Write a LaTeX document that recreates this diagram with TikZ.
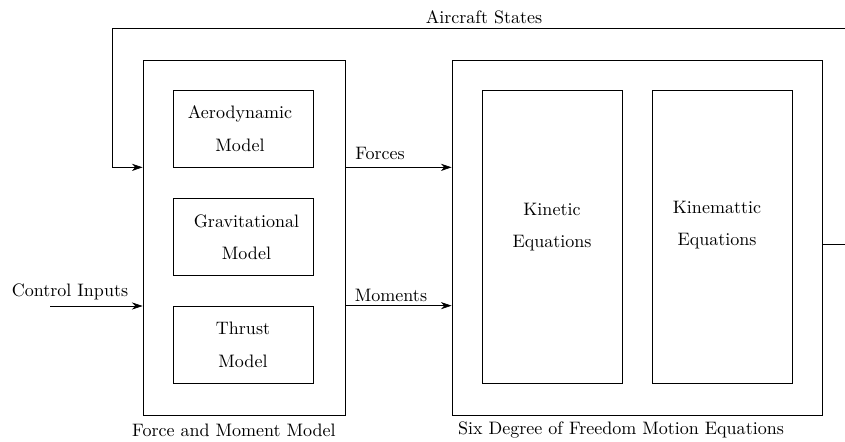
\documentclass[tikz,border=0pt]{standalone}
\usetikzlibrary{arrows.meta}
\begin{document}
\begin{tikzpicture}[x=0.555pt,y=-0.555pt,
  box/.style={draw,rectangle,inner sep=0pt,align=center},
  arr/.style={-{Stealth[length=6pt,width=4pt]}},
  lbl/.style={inner sep=0pt,align=center}]
\useasboundingbox (0,0) rectangle (845,442);
% outer boxes
\node[box,minimum width=202*0.555pt,minimum height=355*0.555pt] (fm) at (244,237.5) {};
\node[box,minimum width=370*0.555pt,minimum height=355*0.555pt] (sd) at (637,237.5) {};
% inner boxes
\node[box,minimum width=140*0.555pt,minimum height=77*0.555pt] (aero) at (243,128.5) {};
\node[box,minimum width=140*0.555pt,minimum height=77*0.555pt] (grav) at (243,236.5) {};
\node[box,minimum width=140*0.555pt,minimum height=77*0.555pt] (thr) at (243,344.5) {};
\node[box,minimum width=140*0.555pt,minimum height=293*0.555pt] (kin) at (552,236.5) {};
\node[box,minimum width=140*0.555pt,minimum height=293*0.555pt] (kinm) at (722,236.5) {};
\node[lbl] (aerot) at (240,128.5) {Aerodynamic\\[6pt]Model};
\node[lbl] (gravt) at (246.5,237.5) {Gravitational\\[6pt]Model};
\node[lbl] (thrt) at (243,345) {Thrust\\[6pt]Model};
\node[lbl] (kint) at (552,227) {Kinetic\\[6pt]Equations};
\node[lbl] (kinmt) at (717,225) {Kinemattic\\[6pt]Equations};
% labels
\node[lbl] (fml) at (234,430) {Force and Moment Model};
\node[lbl] (sdl) at (621,430) {Six Degree of Freedom Motion Equations};
\node[lbl] (asl) at (484,17) {Aircraft States};
\node[lbl] (fl) at (380,153) {Forces};
\node[lbl] (ml) at (391,295) {Moments};
\node[lbl] (cil) at (70,292) {Control Inputs};
% connectors
\draw[arr] (fm.east |- aero.south) -- (sd.west |- aero.south);
\draw[arr] (fm.east |- thr.north) -- (sd.west |- thr.north);
\coordinate (ci) at (50,306);
\draw[arr] (ci) -- (fm.west |- ci);
\coordinate (out) at (845,244);
\draw (sd.east |- out) -- (out);
\coordinate (fbR) at (845,28);
\coordinate (fbL) at (112,28);
\draw[arr] (fbR) -- (fbL) |- (fm.west |- aero.south);
\end{tikzpicture}
\end{document}
